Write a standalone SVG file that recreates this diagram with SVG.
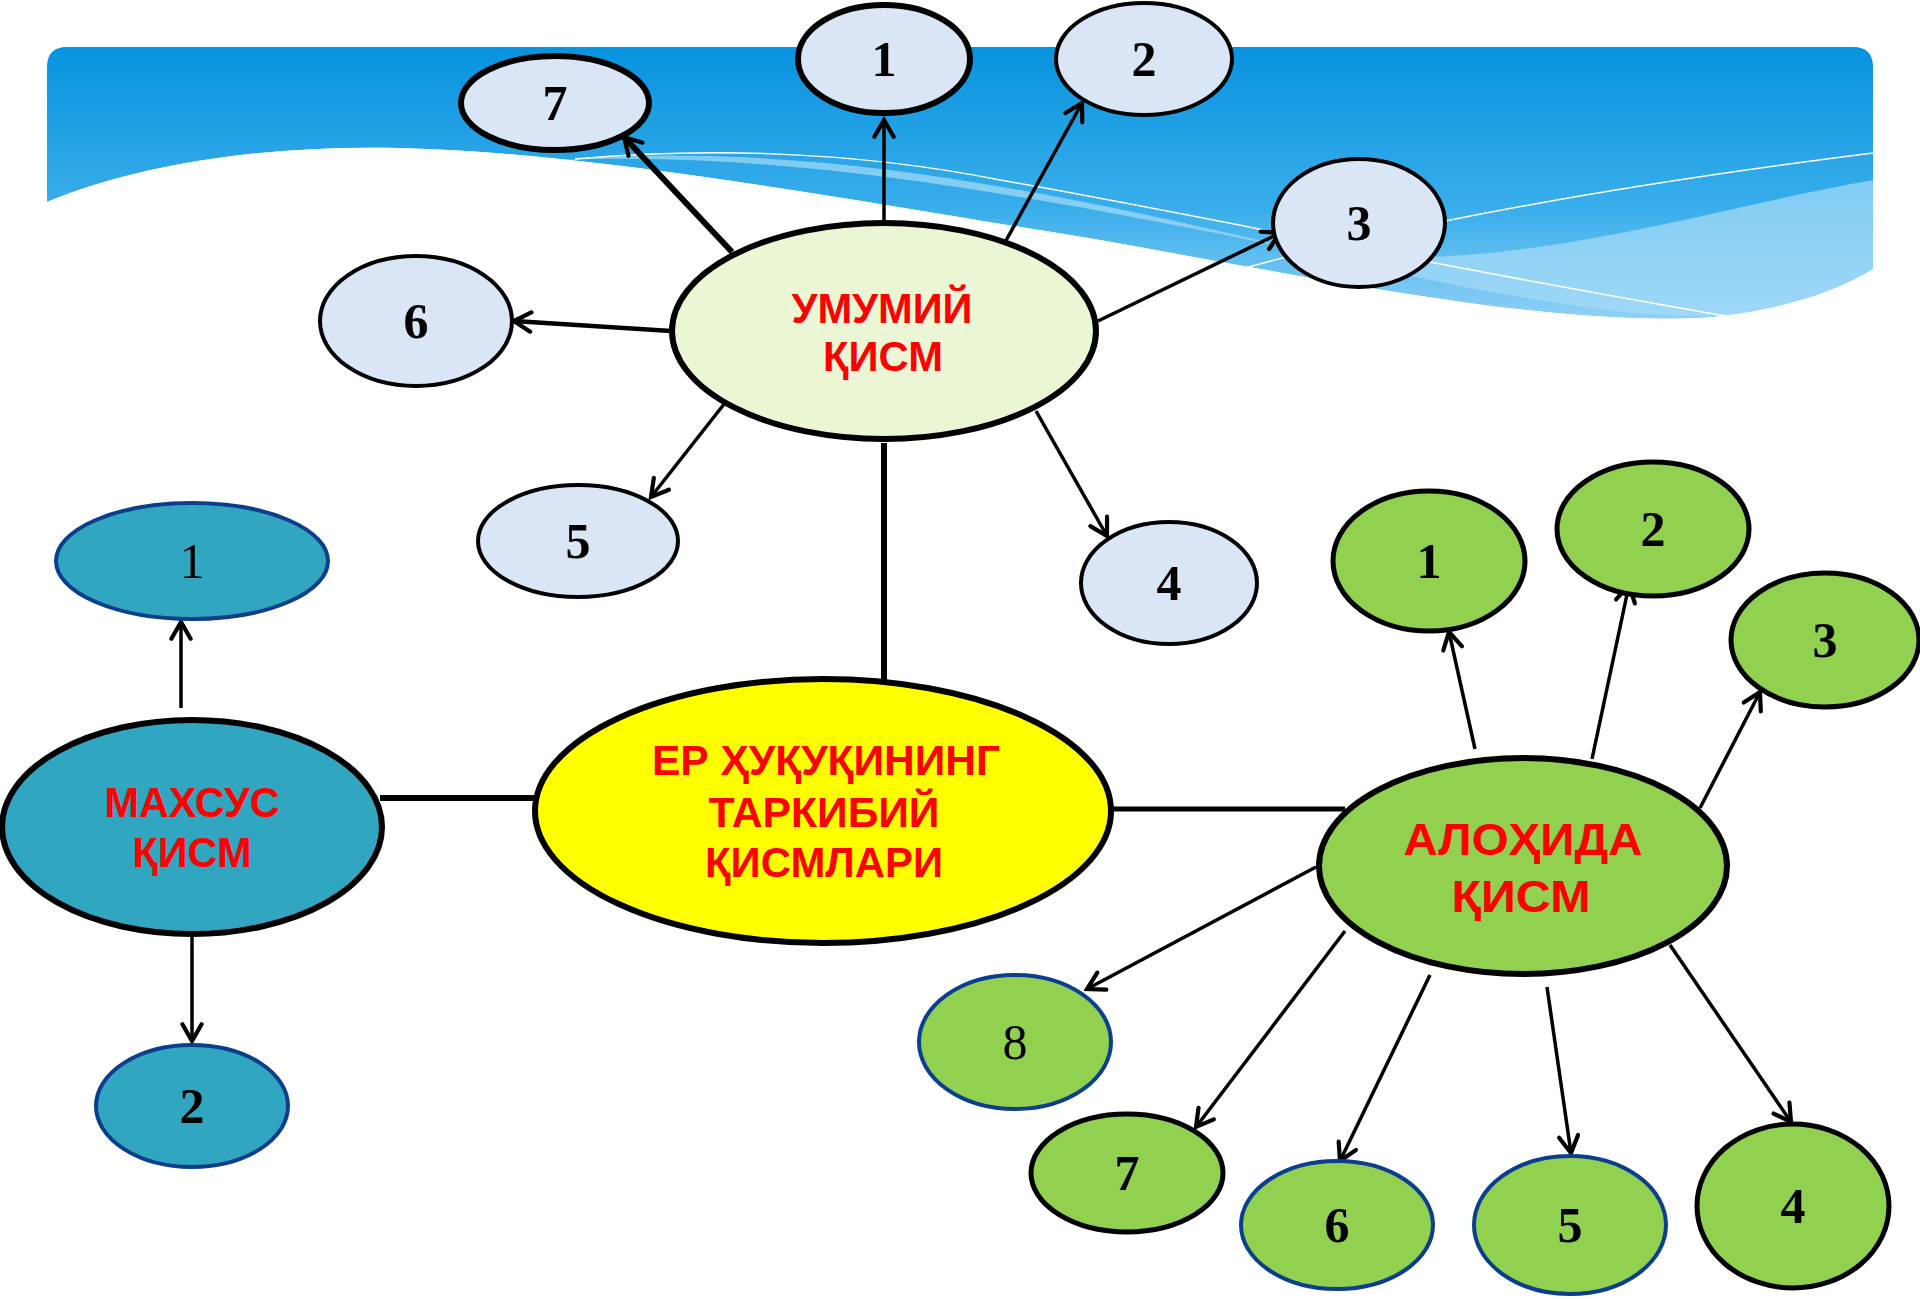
<svg xmlns="http://www.w3.org/2000/svg" width="1920" height="1299" viewBox="0 0 1920 1299">
<defs>
<linearGradient id="bg" x1="0" y1="0" x2="0" y2="1">
<stop offset="0" stop-color="#0893DF"/>
<stop offset="0.6" stop-color="#3AAEEB"/>
<stop offset="1" stop-color="#8FD0F6"/>
</linearGradient>
<marker id="ah" markerUnits="userSpaceOnUse" markerWidth="24" markerHeight="24" viewBox="0 0 20 20" refX="17" refY="10" orient="auto">
<path d="M3,2 L17,10 L3,18" fill="none" stroke="#000" stroke-width="3.5" stroke-linecap="round"/>
</marker>
<style>
.lb{fill:#DAE5F5;stroke:#000;stroke-width:4}
.gn{fill:#92D050;stroke:#000;stroke-width:5}
.gb{fill:#92D050;stroke:#0B3E8C;stroke-width:4}
.tl{fill:#31A6C1;stroke:#0B3E8C;stroke-width:4}
.num{font-family:"Liberation Serif",serif;font-weight:bold;font-size:50px;text-anchor:middle;fill:#000}
.numr{font-family:"Liberation Serif",serif;font-weight:normal;font-size:50px;text-anchor:middle;fill:#000}
.lab{font-family:"Liberation Sans",Arial,sans-serif;font-weight:bold;font-size:42px;text-anchor:middle;fill:#FF0000}
.ca{fill:none;stroke:#000;stroke-width:3.5;marker-end:url(#ah)}
</style>
</defs>
<g id="banner">
<path d="M47,202 C150,160 280,145 400,148 C600,153 850,200 1100,240 C1350,285 1550,325 1700,318 C1780,312 1840,290 1873,269 V67 Q1873,47 1853,47 H67 Q47,47 47,67 Z" fill="url(#bg)"/>
<path d="M560,160 C800,140 1050,190 1300,250 C1500,300 1650,320 1720,316 C1780,312 1840,290 1873,269 V180 C1700,210 1500,280 1300,250 C1050,200 800,150 560,160 Z" fill="#A6DBF8" opacity="0.7"/>
<path d="M575,159 C700,148 850,150 1000,180 C1200,215 1400,260 1726,316" fill="none" stroke="#FFFFFF" stroke-width="1.5"/>
<path d="M1151,294 C1300,250 1500,200 1873,153" fill="none" stroke="#FFFFFF" stroke-width="1.5"/>
<path d="M47,202 C150,160 280,145 400,148 C600,153 850,200 1100,240 C1350,285 1550,325 1700,318 C1780,312 1840,290 1873,269 V1299 H0 V202 Z" fill="#FFFFFF"/>
</g>
<g id="connectors">
<line x1="884" y1="443" x2="884" y2="688" stroke="#000" stroke-width="6"/>
<line x1="380" y1="798" x2="536" y2="798" stroke="#000" stroke-width="6"/>
<line x1="1112" y1="809" x2="1345" y2="809" stroke="#000" stroke-width="5"/>
<line class="ca" x1="884" y1="220" x2="884" y2="120"/>
<line class="ca" x1="998" y1="255" x2="1082" y2="103"/>
<line class="ca" x1="1098" y1="321" x2="1280" y2="233"/>
<line class="ca" x1="732" y1="252" x2="624" y2="137" style="stroke-width:6"/>
<line class="ca" x1="671" y1="331" x2="514" y2="321" style="stroke-width:4.5"/>
<line class="ca" x1="732" y1="394" x2="651" y2="497"/>
<line class="ca" x1="1036" y1="411" x2="1107" y2="536"/>
<line class="ca" x1="181" y1="708" x2="181" y2="622"/>
<line class="ca" x1="192" y1="933" x2="192" y2="1041"/>
<line class="ca" x1="1475" y1="749" x2="1449" y2="632"/>
<line class="ca" x1="1592" y1="759" x2="1629" y2="585"/>
<line class="ca" x1="1700" y1="808" x2="1760" y2="692"/>
<line class="ca" x1="1316" y1="867" x2="1087" y2="989"/>
<line class="ca" x1="1345" y1="931" x2="1196" y2="1127"/>
<line class="ca" x1="1430" y1="975" x2="1340" y2="1161"/>
<line class="ca" x1="1547" y1="987" x2="1571" y2="1153"/>
<line class="ca" x1="1670" y1="945" x2="1791" y2="1122"/>
</g>
<g id="umumiy">
<ellipse cx="884" cy="331" rx="212" ry="108" fill="#EBF6D5" stroke="#000" stroke-width="6"/>
<text class="lab" x="882" y="323" style="font-size:43px" textLength="181" lengthAdjust="spacingAndGlyphs">УМУМИЙ</text>
<text class="lab" x="883" y="371" style="font-size:43px" textLength="120" lengthAdjust="spacingAndGlyphs">ҚИСМ</text>
</g>
<g id="u1"><ellipse class="lb" cx="884" cy="59" rx="86" ry="54" style="stroke-width:6"/><text class="num" x="884" y="76">1</text></g>
<g id="u2"><ellipse class="lb" cx="1144" cy="59" rx="88" ry="56"/><text class="num" x="1144" y="76">2</text></g>
<g id="u3"><ellipse class="lb" cx="1359" cy="223" rx="86" ry="64"/><text class="num" x="1359" y="240">3</text></g>
<g id="u4"><ellipse class="lb" cx="1169" cy="583" rx="88" ry="61"/><text class="num" x="1169" y="600">4</text></g>
<g id="u5"><ellipse class="lb" cx="578" cy="541" rx="100" ry="56"/><text class="num" x="578" y="558">5</text></g>
<g id="u6"><ellipse class="lb" cx="416" cy="321" rx="96" ry="65"/><text class="num" x="416" y="338">6</text></g>
<g id="u7"><ellipse class="lb" cx="555" cy="103" rx="94" ry="47" style="stroke-width:6"/><text class="num" x="555" y="120">7</text></g>
<g id="center">
<ellipse cx="823" cy="811" rx="288" ry="132" fill="#FFFF00" stroke="#000" stroke-width="6"/>
<text class="lab" x="826" y="775" textLength="348" lengthAdjust="spacingAndGlyphs">ЕР ҲУҚУҚИНИНГ</text>
<text class="lab" x="824" y="827" textLength="231" lengthAdjust="spacingAndGlyphs">ТАРКИБИЙ</text>
<text class="lab" x="824" y="877" textLength="238" lengthAdjust="spacingAndGlyphs">ҚИСМЛАРИ</text>
</g>
<g id="maxsus">
<ellipse cx="192" cy="827" rx="190" ry="107" fill="#31A6C1" stroke="#000" stroke-width="6"/>
<text class="lab" x="192" y="817" textLength="175" lengthAdjust="spacingAndGlyphs">МАХСУС</text>
<text class="lab" x="192" y="867" textLength="119" lengthAdjust="spacingAndGlyphs">ҚИСМ</text>
</g>
<g id="m1"><ellipse class="tl" cx="192" cy="561" rx="136" ry="58"/><text class="numr" x="192" y="578">1</text></g>
<g id="m2"><ellipse class="tl" cx="192" cy="1106" rx="96" ry="61"/><text class="num" x="192" y="1123">2</text></g>
<g id="alohida">
<ellipse cx="1523" cy="866" rx="204" ry="108" fill="#92D050" stroke="#000" stroke-width="6"/>
<text class="lab" x="1523" y="855" style="font-size:45px" textLength="239" lengthAdjust="spacingAndGlyphs">АЛОҲИДА</text>
<text class="lab" x="1521" y="912" style="font-size:45px" textLength="139" lengthAdjust="spacingAndGlyphs">ҚИСМ</text>
</g>
<g id="a1"><ellipse class="gn" cx="1429" cy="561" rx="96" ry="70"/><text class="num" x="1429" y="578">1</text></g>
<g id="a2"><ellipse class="gn" cx="1653" cy="529" rx="96" ry="67"/><text class="num" x="1653" y="546">2</text></g>
<g id="a3"><ellipse class="gn" cx="1825" cy="640" rx="94" ry="67"/><text class="num" x="1825" y="657">3</text></g>
<g id="a4"><ellipse class="gn" cx="1793" cy="1206" rx="96" ry="82"/><text class="num" x="1793" y="1223">4</text></g>
<g id="a5"><ellipse class="gb" cx="1570" cy="1225" rx="96" ry="69"/><text class="num" x="1570" y="1242">5</text></g>
<g id="a6"><ellipse class="gb" cx="1337" cy="1225" rx="96" ry="64"/><text class="num" x="1337" y="1242">6</text></g>
<g id="a7"><ellipse class="gn" cx="1127" cy="1173" rx="96" ry="59"/><text class="num" x="1127" y="1190">7</text></g>
<g id="a8"><ellipse class="gb" cx="1015" cy="1042" rx="96" ry="67"/><text class="numr" x="1015" y="1059">8</text></g>
</svg>
